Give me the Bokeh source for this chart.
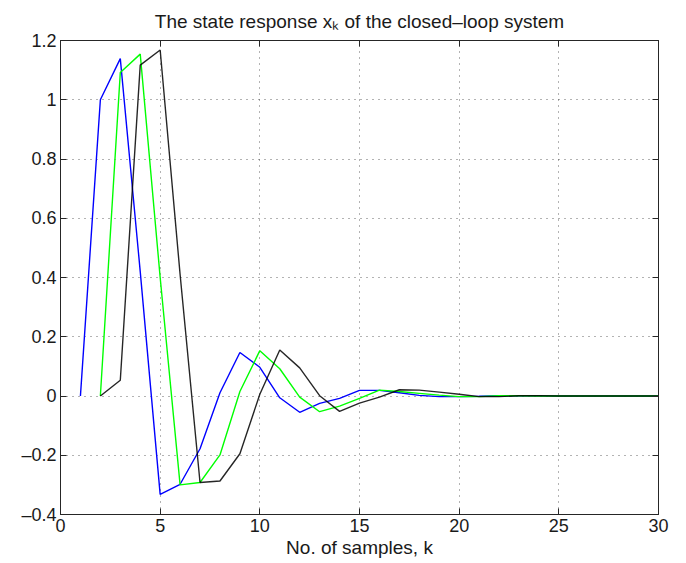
from bokeh.plotting import figure
from bokeh.models import Range1d, FixedTicker, LinearAxis, CustomJSTickFormatter
from bokeh.embed import file_html
from bokeh.resources import INLINE

# ---- data ----
k_blue = list(range(1, 31))
x_blue = [0, 1.0, 1.139, 0.42, -0.332, -0.298, -0.178, 0.011, 0.147, 0.097,
          -0.006, -0.055, -0.025, -0.008, 0.019, 0.019, 0.011, 0.002, -0.002, -0.002,
          -0.001, 0.001, 0.001, 0.0005, 0, 0, 0, 0, 0, 0]
k_green = list(range(2, 31))
x_green = [0, 1.092, 1.154, 0.40, -0.300, -0.292, -0.199, 0.015, 0.153, 0.092,
           -0.004, -0.053, -0.034, -0.008, 0.020, 0.015, 0.009, 0.003, -0.002, -0.002,
           0.001, 0.001, 0, 0, 0, 0, 0, 0, 0]
k_black = list(range(2, 31))
x_black = [0, 0.053, 1.117, 1.168, 0.41, -0.292, -0.287, -0.195, 0.006, 0.155,
           0.095, 0.001, -0.052, -0.024, -0.004, 0.021, 0.020, 0.013, 0.006, -0.002,
           -0.002, 0.001, 0.001, 0, 0, 0, 0, 0, 0]

x_ticks = [0, 5, 10, 15, 20, 25, 30]
y_ticks = [-0.4, -0.2, 0, 0.2, 0.4, 0.6, 0.8, 1.0, 1.2]

title_text = "The state response x\u2096 of the closed\u2013loop system"
xlabel = "No. of samples, k"

FONT = "Liberation Sans"
AX = "#262626"

p = figure(width=680, height=560, output_backend="svg", toolbar_location=None,
           x_range=Range1d(0, 30), y_range=Range1d(-0.4, 1.2),
           min_border_left=60, min_border_right=22, min_border_top=40, min_border_bottom=45)
p.background_fill_color = "white"
p.border_fill_color = "white"
p.outline_line_color = AX
p.outline_line_width = 1

p.title.text = title_text
p.title.align = "center"
p.title.text_font = FONT
p.title.text_font_size = "19px"
p.title.text_font_style = "normal"
p.title.text_color = "#1a1a1a"
p.title.standoff = 17

p.line(k_blue, x_blue, line_color="#0000ff", line_width=1.4)
p.line(k_green, x_green, line_color="#00ff00", line_width=1.4)
p.line(k_black, x_black, line_color="#000000", line_width=1.4, line_alpha=0.85)

yfmt = CustomJSTickFormatter(code="""
const v = Math.round(tick*10)/10;
return v < 0 ? "\u2013" + (-v).toString() : v.toString();
""")
xfmt = CustomJSTickFormatter(code="""
const v = Math.round(tick);
return v.toString();
""")
blank = CustomJSTickFormatter(code="return '';")

def style_axis(ax):
    ax.axis_line_color = AX
    ax.major_tick_line_color = AX
    ax.major_tick_in = 6
    ax.major_tick_out = 0
    ax.minor_tick_line_color = None
    ax.major_label_text_font = FONT
    ax.major_label_text_font_size = "18px"
    ax.major_label_text_color = "#1a1a1a"
    ax.axis_label_text_font = FONT
    ax.axis_label_text_font_style = "normal"
    ax.axis_label_text_font_size = "19px"
    ax.axis_label_text_color = "#1a1a1a"

xa = p.xaxis[0]
ya = p.yaxis[0]
xa.ticker = FixedTicker(ticks=x_ticks)
ya.ticker = FixedTicker(ticks=y_ticks)
xa.formatter = xfmt
ya.formatter = yfmt
style_axis(xa)
style_axis(ya)
xa.major_label_standoff = 4
xa.axis_label = xlabel
xa.axis_label_standoff = 2
ya.major_label_standoff = 4

top = LinearAxis(ticker=FixedTicker(ticks=x_ticks), formatter=blank)
right = LinearAxis(ticker=FixedTicker(ticks=y_ticks), formatter=blank)
for ax in (top, right):
    style_axis(ax)
    ax.major_label_text_font_size = "1px"
    ax.major_label_standoff = 0
p.add_layout(top, "above")
p.add_layout(right, "right")

p.xgrid.ticker = FixedTicker(ticks=x_ticks)
p.ygrid.ticker = FixedTicker(ticks=y_ticks)
for g in (p.xgrid[0], p.ygrid[0]):
    g.grid_line_color = "#333333"
    g.grid_line_alpha = 0.75
    g.grid_line_dash = "1 5"
    g.grid_line_width = 1

open("out.html", "w").write(file_html(p, INLINE))
